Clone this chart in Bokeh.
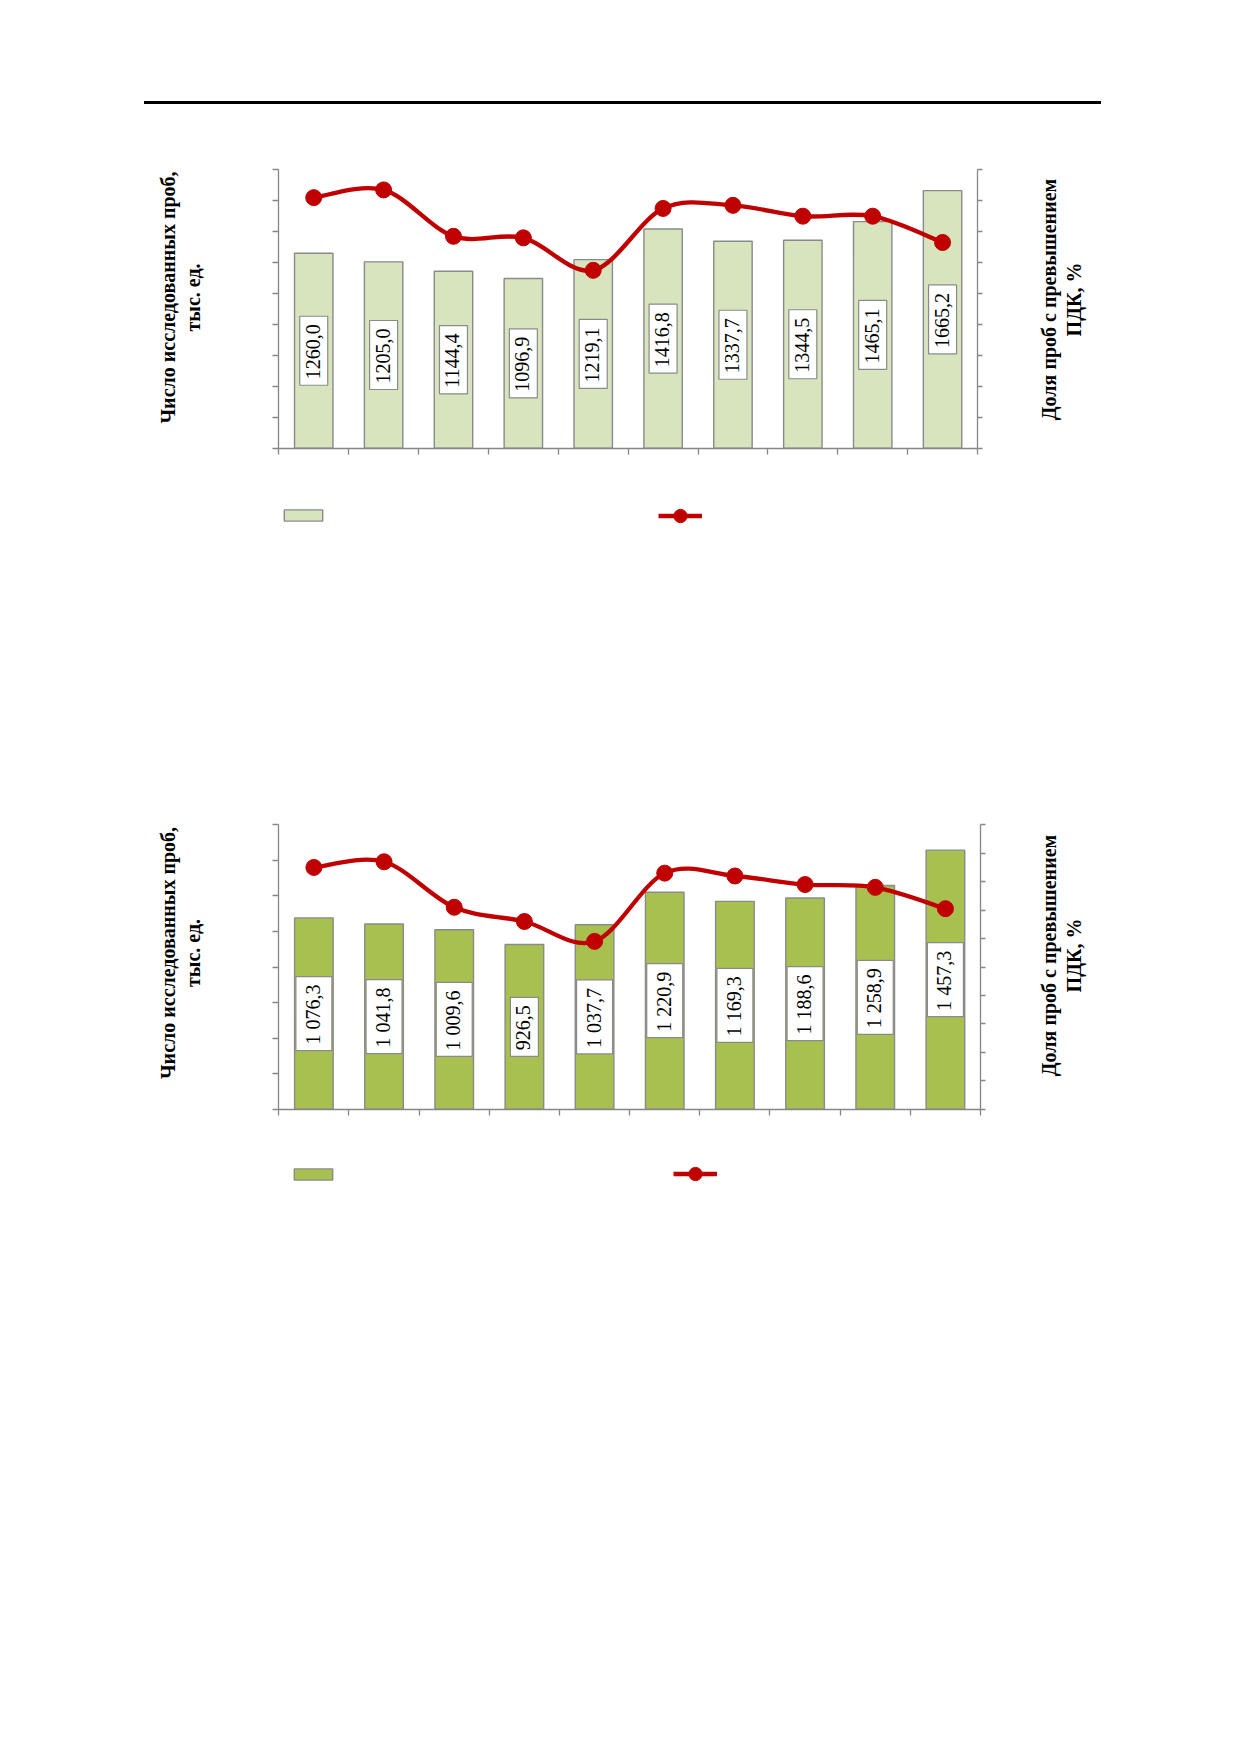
import math
from bokeh.plotting import figure
from bokeh.models import (Range1d, LinearAxis, FixedTicker, Legend, LegendItem,
                          ColumnDataSource, Div, Label)
from bokeh.layouts import column
from bokeh.embed import file_html
from bokeh.resources import INLINE
from bokeh.core.properties import value

# ---------------- data ----------------
slots = [1, 2, 3, 4, 5, 6, 7, 8, 9, 10]

samples_top = [1260.0, 1205.0, 1144.4, 1096.9, 1219.1, 1416.8, 1337.7, 1344.5, 1465.1, 1665.2]
share_top = [16.2, 16.7, 13.7, 13.6, 11.5, 15.5, 15.7, 15.0, 15.0, 13.3]

samples_bottom = [1076.3, 1041.8, 1009.6, 926.5, 1037.7, 1220.9, 1169.3, 1188.6, 1258.9, 1457.3]
share_bottom = [17.0, 17.4, 14.2, 13.2, 11.8, 16.6, 16.4, 15.8, 15.6, 14.1]

left_ticks_top = [0, 200, 400, 600, 800, 1000, 1200, 1400, 1600, 1800]
right_ticks_top = [0, 2, 4, 6, 8, 10, 12, 14, 16, 18]
left_ticks_bottom = [0, 200, 400, 600, 800, 1000, 1200, 1400, 1600]
right_ticks_bottom = [0, 2, 4, 6, 8, 10, 12, 14, 16, 18, 20]
slot_edges = [0.5, 1.5, 2.5, 3.5, 4.5, 5.5, 6.5, 7.5, 8.5, 9.5, 10.5]

left_title = "Число исследованных проб,\nтыс. ед."
right_title = "Доля проб с превышением\nПДК, %"

SERIF = "Liberation Serif"
AXIS_COLOR = "#868686"
RED = "#C00000"

# frame (canvas) geometry, page pixels
FRAME_LEFT, FRAME_RIGHT = 40, 1180
BORDER_L, BORDER_R, BORDER_T, BORDER_B = 40, 40, 20, 40


def fmt_plain(v):
    return f"{v:.1f}".replace(".", ",")


def fmt_spaced(v):
    return f"{v:,.1f}".replace(",", " ").replace(".", ",")


def smooth_segments(xs, ys):
    n = len(xs)
    seg = dict(x0=[], y0=[], x1=[], y1=[], cx0=[], cy0=[], cx1=[], cy1=[])
    for i in range(n - 1):
        xp, yp = (xs[i - 1], ys[i - 1]) if i > 0 else (xs[i], ys[i])
        xn, yn = (xs[i + 2], ys[i + 2]) if i + 2 < n else (xs[i + 1], ys[i + 1])
        seg["x0"].append(xs[i]); seg["y0"].append(ys[i])
        seg["x1"].append(xs[i + 1]); seg["y1"].append(ys[i + 1])
        seg["cx0"].append(xs[i] + (xs[i + 1] - xp) / 6.0)
        seg["cy0"].append(ys[i] + (ys[i + 1] - yp) / 6.0)
        seg["cx1"].append(xs[i + 1] - (xn - xs[i]) / 6.0)
        seg["cy1"].append(ys[i + 1] - (yn - ys[i]) / 6.0)
    return seg


def style_axis(ax, tick_out):
    ax.axis_line_color = AXIS_COLOR
    ax.axis_line_width = 1.3
    ax.major_tick_line_color = AXIS_COLOR
    ax.major_tick_line_width = 1.3
    ax.major_tick_in = 0
    ax.major_tick_out = tick_out
    ax.minor_tick_line_color = None


def title_label(text, x, y):
    return Label(text=text, x=x, y=y, x_units="screen", y_units="screen",
                 angle=math.pi / 2, text_align="center", text_baseline="middle",
                 text_font=SERIF, text_font_style="bold", text_font_size="20px",
                 text_color="black", text_line_height=1.15)


def make_chart(samples, share, labels, left_ticks, right_ticks, bar_color,
               canvas_top, canvas_bottom, plot_box, leg_a, leg_b, left_c, right_c):
    # plot_box: page pixels of the axes box (left, right, top, bottom)
    ax_l, ax_r, ax_t, ax_b = plot_box
    frame_top = canvas_top + BORDER_T
    frame_bottom = canvas_bottom - BORDER_B
    frame_w = FRAME_RIGHT - FRAME_LEFT
    frame_h = frame_bottom - frame_top

    kx = (ax_r - ax_l) / (slot_edges[-1] - slot_edges[0])
    x_start = slot_edges[0] - (ax_l - FRAME_LEFT) / kx
    x_end = slot_edges[-1] + (FRAME_RIGHT - ax_r) / kx

    def yrange(lo, hi):
        k = (ax_b - ax_t) / (hi - lo)
        return Range1d(lo - (frame_bottom - ax_b) / k, hi + (ax_t - frame_top) / k)

    p = figure(frame_width=frame_w, frame_height=frame_h,
               x_range=Range1d(x_start, x_end),
               y_range=yrange(left_ticks[0], left_ticks[-1]),
               output_backend="svg", toolbar_location=None, title=None,
               min_border_left=BORDER_L, min_border_right=BORDER_R,
               min_border_top=BORDER_T, min_border_bottom=BORDER_B)
    p.extra_y_ranges = {"pct": yrange(right_ticks[0], right_ticks[-1])}
    p.xgrid.visible = False
    p.ygrid.visible = False
    p.outline_line_color = None

    xa = p.xaxis[0]
    xa.ticker = FixedTicker(ticks=slot_edges)
    xa.major_label_overrides = {t: "" for t in slot_edges}
    xa.fixed_location = left_ticks[0]
    xa.bounds = (slot_edges[0], slot_edges[-1])
    style_axis(xa, 6)

    ya = p.yaxis[0]
    ya.ticker = FixedTicker(ticks=left_ticks)
    ya.major_label_overrides = {t: "" for t in left_ticks}
    ya.fixed_location = slot_edges[0]
    ya.bounds = (left_ticks[0], left_ticks[-1])
    style_axis(ya, 6)

    ra = LinearAxis(y_range_name="pct", ticker=FixedTicker(ticks=right_ticks))
    ra.major_label_overrides = {t: "" for t in right_ticks}
    ra.fixed_location = slot_edges[-1]
    ra.bounds = (right_ticks[0], right_ticks[-1])
    style_axis(ra, 5)
    p.add_layout(ra, "right")

    p.add_layout(title_label(left_title, left_c[0] - FRAME_LEFT, frame_bottom - left_c[1]))
    p.add_layout(title_label(right_title, right_c[0] - FRAME_LEFT, frame_bottom - right_c[1]))

    src = ColumnDataSource(dict(x=slots, v=samples,
                                mid=[s / 2.0 for s in samples], lbl=labels))
    bars = p.vbar(x="x", top="v", bottom=0, width=0.55, source=src,
                  fill_color=bar_color, line_color="#8a8a8a", line_width=1.4)

    p.text(x="x", y="mid", text="lbl", source=src, angle=math.pi / 2,
           text_align="center", text_baseline="middle",
           text_font=value(SERIF), text_font_size="20px", text_color="black",
           background_fill_color="white", border_line_color="#8a8a8a",
           border_line_width=1.2, padding=(6, 8, 6, 8))

    seg = smooth_segments(slots, share)
    curve = p.bezier(x0="x0", y0="y0", x1="x1", y1="y1",
                     cx0="cx0", cy0="cy0", cx1="cx1", cy1="cy1",
                     source=ColumnDataSource(seg), y_range_name="pct",
                     line_color=RED, line_width=4.3)
    dots = p.scatter(x=slots, y=share, y_range_name="pct", size=16,
                     fill_color=RED, line_color=RED)

    # legends: (glyph left, glyph top) in page pixels
    la = Legend(items=[LegendItem(label=value(" "), renderers=[bars])],
                location=(leg_a[0] - FRAME_LEFT, frame_bottom - leg_a[1] - 14),
                orientation="horizontal",
                glyph_width=48, glyph_height=14, padding=0, margin=0,
                label_width=0, label_standoff=0, label_text_font_size="8px",
                border_line_color=None, background_fill_alpha=0)
    lb = Legend(items=[LegendItem(label=value(" "), renderers=[curve, dots])],
                location=(leg_b[0] - FRAME_LEFT, frame_bottom - leg_b[1] - 33),
                orientation="horizontal",
                glyph_width=44, glyph_height=33, padding=0, margin=0,
                label_width=0, label_standoff=0, label_text_font_size="8px",
                border_line_color=None, background_fill_alpha=0)
    p.add_layout(la)
    p.add_layout(lb)
    return p


top = make_chart(samples_top, share_top, [fmt_plain(v) for v in samples_top],
                 left_ticks_top, right_ticks_top, "#D7E4BD",
                 104, 774, (278.3, 977.0, 169.3, 447.7),
                 (278.5, 507.5), (658, 498.5), (180, 297), (1061, 299))
bottom = make_chart(samples_bottom, share_bottom, [fmt_spaced(v) for v in samples_bottom],
                    left_ticks_bottom, right_ticks_bottom, "#A8C04F",
                    774, 1330, (278.3, 980.0, 824.3, 1108.7),
                    (288.5, 1166.8), (673, 1156.8), (180, 952.5), (1061, 955))

header = Div(text="", width=957, height=3, margin=(101, 0, 0, 144),
             styles={"background-color": "#000000"})

page = column(header, top, bottom, spacing=0)

with open("out.html", "w") as f:
    f.write(file_html(page, INLINE))
